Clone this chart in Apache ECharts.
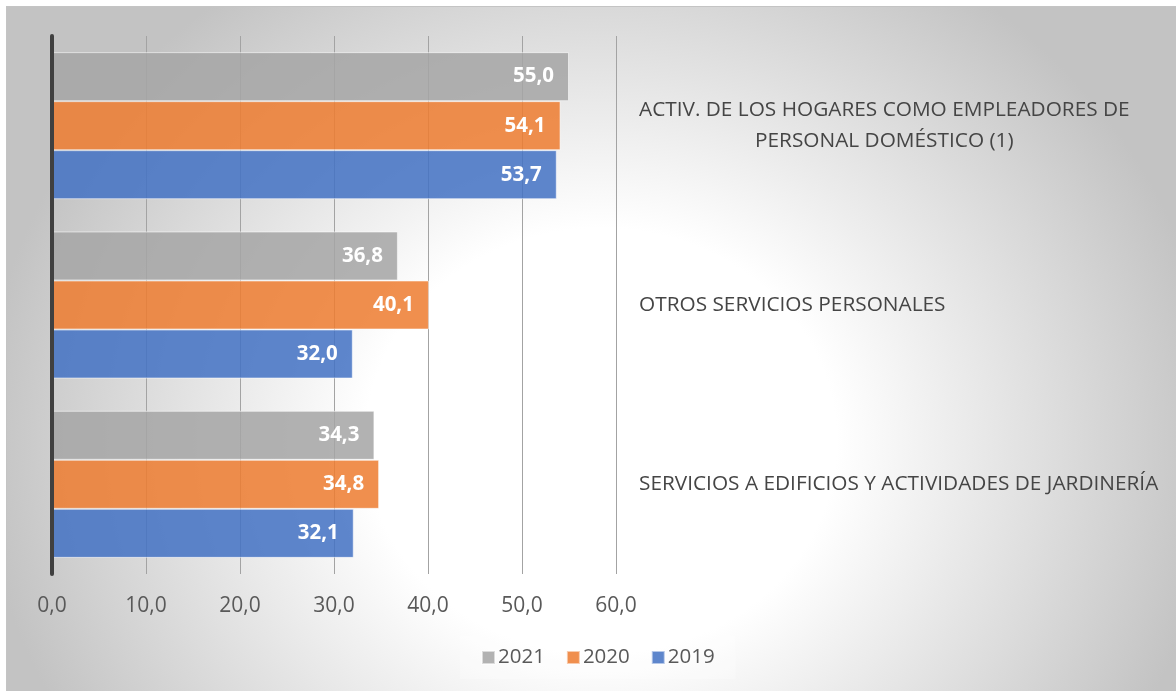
<!DOCTYPE html>
<html>
<head>
<meta charset="utf-8">
<script src="https://cdn.jsdelivr.net/npm/echarts@6/dist/echarts.min.js"></script>
<style>
  html, body { margin: 0; padding: 0; background: #ffffff; }
  #frame {
    position: absolute; left: 6px; top: 6px; width: 1176px; height: 690px;
    border-top: 1px solid #c4c4c4; border-left: 1px solid #c4c4c4;
    background: radial-gradient(ellipse 620px 560px at 594px 434px, #ffffff 0%, #ffffff 38%, #c3c3c3 100%);
  }
  #chart { position: absolute; left: 0; top: 0; width: 1176px; height: 691px; }
</style>
</head>
<body>
<div id="frame"></div>
<div id="chart"></div>
<script>
// Activity groups, top to bottom
const categories = [
  'ACTIV. DE LOS HOGARES COMO EMPLEADORES DE\nPERSONAL DOMÉSTICO (1)',
  'OTROS SERVICIOS PERSONALES',
  'SERVICIOS A EDIFICIOS Y ACTIVIDADES DE JARDINERÍA'
];
const years = ['2021', '2020', '2019'];
const values2021 = [55.0, 36.8, 34.3];
const values2020 = [54.1, 40.1, 34.8];
const values2019 = [53.7, 32.0, 32.1];
const xTicks = { min: 0, max: 60, interval: 10 };

const colors = ['rgba(165,165,165,0.86)', 'rgba(237,125,49,0.86)', 'rgba(68,114,196,0.86)'];
const seriesValues = [values2021, values2020, values2019];
const fmt = v => v.toFixed(1).replace('.', ',');
const FONT = '"Open Sans", "Noto Sans", sans-serif';

const chart = echarts.init(document.getElementById('chart'), null, { renderer: 'canvas' });

chart.setOption({
  backgroundColor: 'transparent',
  animation: false,
  textStyle: { fontFamily: FONT },
  grid: { left: 52, width: 564, top: 36, bottom: 117, outerBoundsMode: 'none', containLabel: false },
  legend: {
    data: years,
    left: 460, top: 636,
    padding: [11, 21],
    backgroundColor: 'rgba(255,255,255,0.25)',
    itemWidth: 13, itemHeight: 13, itemGap: 21,
    icon: 'rect',
    textStyle: { fontFamily: FONT, fontSize: 20.5, color: '#595959', padding: [0, 0, 0, -2] }
  },
  xAxis: {
    type: 'value',
    min: xTicks.min, max: xTicks.max, interval: xTicks.interval,
    axisLine: { show: false },
    axisTick: { show: false },
    splitLine: { show: true, lineStyle: { color: '#a3a3a3', width: 1 } },
    axisLabel: { fontFamily: FONT, fontSize: 21, color: '#595959', margin: 22, formatter: v => fmt(v) }
  },
  yAxis: [
    {
      type: 'category', data: categories, inverse: true, position: 'left', z: 10,
      axisLine: { show: true, lineStyle: { color: '#404040', width: 4 } },
      axisTick: { show: false },
      axisLabel: { show: false },
      splitLine: { show: false }
    },
    {
      type: 'category', data: categories, inverse: true, position: 'right',
      axisLine: { show: false },
      axisTick: { show: false },
      splitLine: { show: false },
      axisLabel: {
        margin: 23,
        align: 'left',
        formatter: v => v.split('\n').map(l => '{c|' + l + '}').join('\n'),
        rich: { c: { align: 'center', fontFamily: FONT, fontSize: 20.8, color: '#454545', lineHeight: 31 } }
      }
    }
  ],
  series: years.map((y, i) => ({
    name: y,
    type: 'bar',
    yAxisIndex: 0,
    data: seriesValues[i],
    barGap: '0%',
    barCategoryGap: '18%',
    itemStyle: { color: colors[i], borderColor: 'rgba(255,255,255,0.55)', borderWidth: 1 },
    label: {
      show: true, position: 'insideRight', distance: 15,
      color: '#ffffff', fontWeight: 'bold', fontSize: 20.5, fontFamily: FONT,
      formatter: p => fmt(p.value)
    }
  }))
});
</script>
</body>
</html>
